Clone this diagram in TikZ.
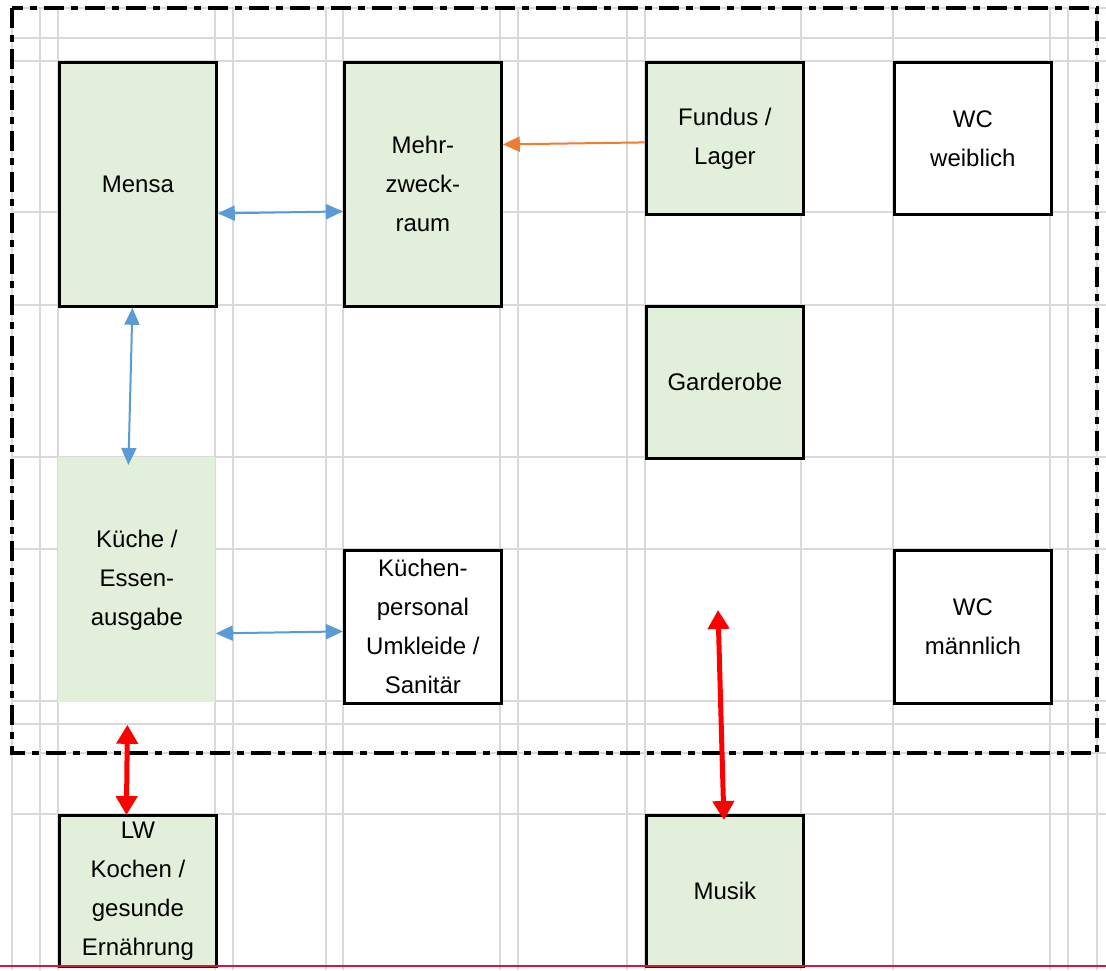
\documentclass[tikz,border=0pt]{standalone}
\usepackage{fontspec}
\setmainfont{Liberation Sans}
\usetikzlibrary{calc,arrows.meta}
\definecolor{raumgruen}{RGB}{226,239,218}
\definecolor{gitter}{RGB}{217,217,217}
\definecolor{pfeilblau}{RGB}{91,155,213}
\definecolor{pfeilorange}{RGB}{237,125,49}
\definecolor{randrot}{RGB}{220,20,60}
\tikzset{
  raum/.style={anchor=north west,inner sep=0pt,align=center,
    font=\fontsize{12pt}{19.5pt}\selectfont,minimum width=78.5pt},
  gruen/.style={raum,draw=black,line width=1.4pt,fill=raumgruen},
  weiss/.style={raum,draw=black,line width=1.4pt,fill=white},
  blaupfeil/.style={pfeilblau,line width=1pt,
    {Triangle[length=8.5pt,width=7.5pt]}-{Triangle[length=8.5pt,width=7.5pt]}},
  orangepfeil/.style={pfeilorange,line width=1pt,-{Triangle[length=8.5pt,width=7.5pt]}},
  rotpfeil/.style={red,line width=2.5pt,
    {Triangle[length=9.5pt,width=10.5pt]}-{Triangle[length=9.5pt,width=10.5pt]}}
}
\begin{document}
\begin{tikzpicture}[x=0.5pt,y=-0.5pt,gitterlinie/.style={gitter,line width=1pt},
  rahmen/.style={black,line width=1.8pt,dash pattern=on 10pt off 3.5pt on 3.5pt off 3.5pt}]
			\useasboundingbox (0,0) rectangle (1106,970);
			% Raster
			\foreach \gx in {12,40,58,215,233,326,343,500,518,627,645,801,893,1050,1068,1097}
				\draw[gitterlinie] (\gx,8) -- (\gx,970);
			\foreach \gy in {8,38,61,212,305,457,549,701,724,753,814}
				\draw[gitterlinie] (12,\gy) -- (1106,\gy);
			\draw[rahmen] (12,8) rectangle (1097,753);
			% Raeume
			\node[gruen,minimum height=122pt] (mensa) at (58,61) {Mensa};
			\node[gruen,minimum height=122pt] (mehr) at (343,61) {Mehr-\\zweck-\\raum};
			\node[gruen,minimum height=76pt] (fundus) at (645,61) {Fundus /\\Lager};
			\node[weiss,minimum height=76pt] (wcw) at (893,61) {WC\\weiblich};
			\node[gruen,minimum height=76pt] (garderobe) at (645,305) {Garderobe};
			\node[raum,fill=raumgruen,minimum height=122.5pt] (kueche) at (58,457) {Küche /\\Essen-\\ausgabe};
			\node[weiss,minimum height=76.5pt] (personal) at (343,549) {Küchen-\\personal\\Umkleide /\\Sanitär};
			\node[weiss,minimum height=76.5pt] (wcm) at (893,549) {WC\\männlich};
			\node[gruen,minimum height=75.5pt] (lw) at (58,814) {LW\\Kochen /\\gesunde\\Ernährung};
			\node[gruen,minimum height=75.5pt] (musik) at (645,814) {Musik};
			\coordinate (musikoben) at (718,610);
			% Pfeile
			\draw[blaupfeil] ($(mensa.east)+(0,29)$) -- ($(mehr.west)+(0,27)$);
			\draw[orangepfeil] ($(fundus.west)+(0,4)$) -- ($(mehr.east)+(0,-40)$);
			\draw[blaupfeil] ($(mensa.south)+(-5.5,0)$) -- ($(kueche.north)+(-8.5,8)$);
			\draw[blaupfeil] ($(kueche.east)+(0,53.5)$) -- ($(personal.west)+(0,4.5)$);
			\draw[rotpfeil] ($(kueche.south)+(-9.5,22)$) -- ($(lw.north)+(-11.5,1)$);
			\draw[rotpfeil] (musikoben) -- ($(musik.north)+(-1,6)$);
			\draw[randrot,line width=1pt] (0,966) -- (1106,966);
		\end{tikzpicture}
\end{document}
